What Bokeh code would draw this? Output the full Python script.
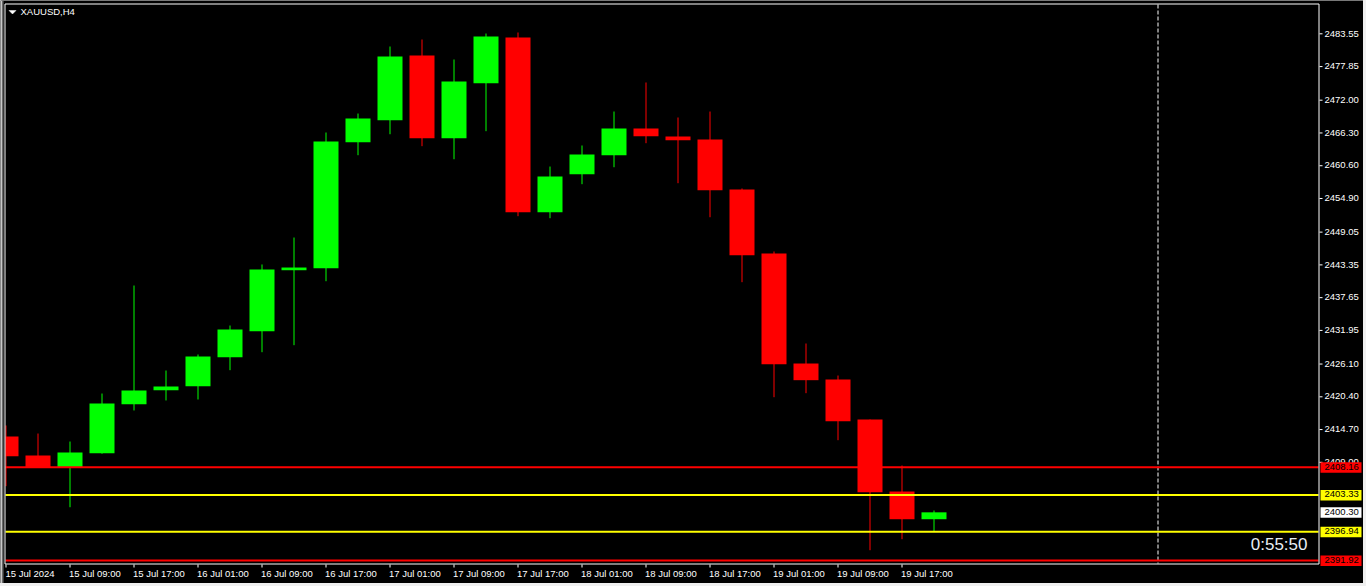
from bokeh.plotting import figure
from bokeh.models import Range1d
from bokeh.core.properties import value
from bokeh.embed import file_html
from bokeh.resources import INLINE
from jinja2 import Template

# ---------------- data ----------------
symbol_title = "XAUUSD,H4"
opens = [2413.49, 2410.19, 2408.15, 2410.59, 2419.11, 2421.55, 2422.24, 2427.29, 2431.81, 2442.42,
         2442.77, 2464.69, 2468.52, 2479.77, 2465.39, 2474.96, 2482.91, 2452.51, 2459.12, 2462.43,
         2467.07, 2465.68, 2465.16, 2456.46, 2445.33, 2426.19, 2423.41, 2416.45, 2403.92, 2399.10]
highs = [2415.41, 2414.01, 2412.62, 2420.97, 2439.76, 2424.97, 2427.76, 2432.80, 2443.42, 2448.11,
         2466.38, 2469.68, 2481.34, 2482.56, 2479.08, 2483.60, 2483.78, 2460.46, 2464.12, 2470.03,
         2475.08, 2468.99, 2470.03, 2456.64, 2445.68, 2429.67, 2424.10, 2416.45, 2408.45, 2400.62]
lows = [2404.85, 2408.15, 2401.19, 2410.50, 2418.02, 2419.76, 2419.93, 2425.03, 2428.16, 2429.38,
        2440.51, 2462.43, 2466.08, 2464.00, 2461.73, 2466.61, 2451.82, 2451.47, 2457.39, 2460.34,
        2464.52, 2457.56, 2451.64, 2440.34, 2420.33, 2421.03, 2412.85, 2393.71, 2395.63, 2397.02]
closes = [2410.07, 2408.15, 2410.71, 2419.23, 2421.50, 2422.19, 2427.41, 2432.11, 2442.55, 2442.89,
          2464.81, 2468.82, 2479.60, 2465.39, 2475.25, 2483.08, 2452.51, 2458.72, 2462.55, 2467.07,
          2465.74, 2465.04, 2456.34, 2445.03, 2426.07, 2423.29, 2416.15, 2403.80, 2399.10, 2400.30]

x_tick_idx = [0, 2, 4, 6, 8, 10, 12, 14, 16, 18, 20, 22, 24, 26, 28]
x_tick_labels = ["15 Jul 2024", "15 Jul 09:00", "15 Jul 17:00", "16 Jul 01:00", "16 Jul 09:00",
                 "16 Jul 17:00", "17 Jul 01:00", "17 Jul 09:00", "17 Jul 17:00", "18 Jul 01:00",
                 "18 Jul 09:00", "18 Jul 17:00", "19 Jul 01:00", "19 Jul 09:00", "19 Jul 17:00"]
y_ticks = [2409.00, 2414.70, 2420.40, 2426.10, 2431.95, 2437.65, 2443.35, 2449.05,
           2454.90, 2460.60, 2466.30, 2472.00, 2477.85, 2483.55]

levels = [2408.16, 2403.33, 2396.94, 2391.92]
level_colors = ["#FF0000", "#FFFF00", "#FFFF00", "#FF0000"]
bid_price = 2400.30
separator_idx = 36
countdown = "0:55:50"

# ---------------- layout helpers ----------------
BULL = "#00FF00"
BEAR = "#FF0000"
FONT = value("Liberation Sans")
SMALL = value("9.5px")
BAR_PX = 32.0
PX_PER_UNIT = 5.748
W, H = 1363, 583
TXT_SHIFT = 4.0      # small-text baseline correction (px, upward)
BIG_SHIFT = 6.0      # countdown baseline correction (px, upward)


def px_x(page_x):
    return (page_x - 5.5) / BAR_PX


def px_y(page_y):
    return 2391.92 + (560.0 - page_y) / PX_PER_UNIT


def dy(pixels):
    return pixels / PX_PER_UNIT


p = figure(width=W, height=H, x_range=Range1d(px_x(0), px_x(W)), y_range=Range1d(px_y(H), px_y(0)),
           x_axis_location=None, y_axis_location=None, output_backend="svg", toolbar_location=None,
           background_fill_color="black", border_fill_color="black",
           min_border=0, min_border_left=0, min_border_right=0, min_border_top=0, min_border_bottom=0)
p.outline_line_color = None
p.grid.visible = False

# window edge strips
p.quad(left=[px_x(0)], right=[px_x(2)], top=[px_y(0)], bottom=[px_y(H)],
       fill_color="#C8C8C8", line_color=None)
p.quad(left=[px_x(2)], right=[px_x(3)], top=[px_y(0)], bottom=[px_y(H)],
       fill_color="#707070", line_color=None)

# ---------------- separator ----------------
p.segment(x0=[separator_idx], x1=[separator_idx], y0=[px_y(4)], y1=[px_y(563)],
          line_color="white", line_width=1, line_dash="4 2")

# ---------------- candles ----------------
idx = list(range(len(opens)))
colors = [BULL if c >= o else BEAR for o, c in zip(opens, closes)]
half = 12.5 / BAR_PX
p.segment(x0=idx, y0=highs, x1=idx, y1=lows, line_color=colors, line_width=1)
p.quad(left=[max(i - half, px_x(5)) for i in idx], right=[i + half for i in idx],
       top=[max(o, c) for o, c in zip(opens, closes)],
       bottom=[min(o, c) for o, c in zip(opens, closes)],
       fill_color=colors, line_color=None)

# ---------------- level lines ----------------
p.segment(x0=[px_x(5)] * len(levels), x1=[px_x(1318)] * len(levels), y0=levels, y1=levels,
          line_color=level_colors, line_width=2)

# ---------------- chart border ----------------
p.quad(left=[px_x(4.5)], right=[px_x(1318.5)], top=[px_y(3.5)], bottom=[px_y(563.5)],
       fill_color=None, line_color="white", line_width=1)

# ---------------- price axis ----------------
p.segment(x0=[px_x(1319)] * len(y_ticks), x1=[px_x(1322)] * len(y_ticks), y0=y_ticks, y1=y_ticks,
          line_color="white", line_width=1)
p.text(x=[px_x(1324)] * len(y_ticks), y=[t - dy(3.7 - TXT_SHIFT) for t in y_ticks],
       text=[f"{t:.2f}" for t in y_ticks], text_align="left", text_baseline="alphabetic",
       text_color="white", text_font=FONT, text_font_size=SMALL)

# ---------------- price tags ----------------
tag_prices = levels + [bid_price]
tag_colors = level_colors + ["#FFFFFF"]
p.quad(left=[px_x(1320)] * len(tag_prices), right=[px_x(1361)] * len(tag_prices),
       top=[v + dy(5) for v in tag_prices], bottom=[v - dy(5.5) for v in tag_prices],
       fill_color=tag_colors, line_color=None)
p.text(x=[px_x(1324)] * len(tag_prices), y=[v - dy(3.5 - TXT_SHIFT) for v in tag_prices],
       text=[f"{v:.2f}" for v in tag_prices], text_align="left", text_baseline="alphabetic",
       text_color="black", text_font=FONT, text_font_size=SMALL)

# ---------------- time axis ----------------
p.segment(x0=x_tick_idx, x1=x_tick_idx, y0=[px_y(564)] * len(x_tick_idx),
          y1=[px_y(567)] * len(x_tick_idx), line_color="white", line_width=1)
p.text(x=[max(px_x(5), i - 1 / BAR_PX) for i in x_tick_idx],
       y=[px_y(577 - TXT_SHIFT)] * len(x_tick_idx),
       text=x_tick_labels, text_align="left", text_baseline="alphabetic",
       text_color="white", text_font=FONT, text_font_size=SMALL)

# ---------------- title & countdown ----------------
p.patch(x=[px_x(8.5), px_x(15.5), px_x(12)], y=[px_y(10), px_y(10), px_y(13.5)],
        fill_color="white", line_color="white", line_width=0.5)
p.text(x=[px_x(20)], y=[px_y(15 - TXT_SHIFT)], text=[symbol_title], text_align="left",
       text_baseline="alphabetic", text_color="white", text_font=FONT, text_font_size=SMALL)
p.text(x=[px_x(1307)], y=[px_y(550 - BIG_SHIFT)], text=[countdown], text_align="right",
       text_baseline="alphabetic", text_color="#E8EEF5", text_font=FONT,
       text_font_size=value("17px"))

tmpl = Template("""{% extends base %}
{% block preamble %}<style>html, body { background: #F0F0F0; }</style>{% endblock %}""")
open("out.html", "w").write(file_html(p, INLINE, title="XAUUSD,H4", template=tmpl))
